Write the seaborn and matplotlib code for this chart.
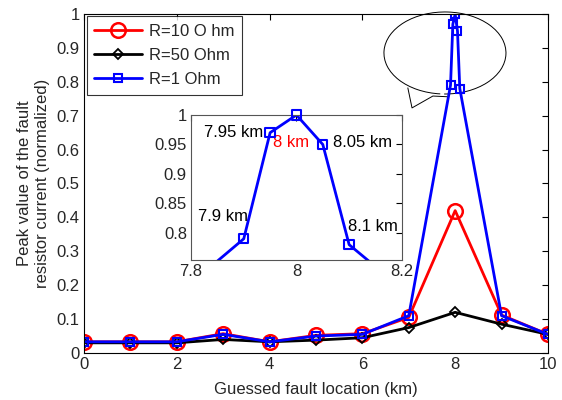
import numpy as np
import pandas as pd
import matplotlib
matplotlib.use("Agg")
import matplotlib.pyplot as plt
import seaborn as sns
from matplotlib.patches import Arc

# =========================
# data
# =========================
x_main = [0, 1, 2, 3, 4, 5, 6, 7, 8, 9, 10]
r10 = [0.033, 0.033, 0.033, 0.057, 0.033, 0.052, 0.057, 0.105, 0.42, 0.112, 0.055]
r50 = [0.030, 0.030, 0.030, 0.040, 0.033, 0.038, 0.045, 0.075, 0.12, 0.085, 0.055]

x_fine = [0, 1, 2, 3, 4, 5, 6, 7, 7.9, 7.95, 8, 8.05, 8.1, 9, 10]
r1 = [0.033, 0.033, 0.033, 0.055, 0.033, 0.050, 0.055, 0.11, 0.79, 0.97, 1.0, 0.95, 0.78, 0.11, 0.055]

inset_labels = ["7.9 km", "7.95 km", "8 km", "8.05 km", "8.1 km"]
inset_label_pos = [(7.86, 0.827), (7.88, 0.971), (7.99, 0.953), (8.125, 0.953), (8.145, 0.81)]
inset_label_colors = ["black", "black", "red", "black", "black"]

df10 = pd.DataFrame({"x": x_main, "y": r10})
df50 = pd.DataFrame({"x": x_main, "y": r50})
df1 = pd.DataFrame({"x": x_fine, "y": r1})

# =========================
# style
# =========================
sns.set_theme(style="white")
plt.rcParams["font.family"] = ["Liberation Sans", "DejaVu Sans"]
plt.rcParams["font.size"] = 12
plt.rcParams["xtick.direction"] = "in"
plt.rcParams["ytick.direction"] = "in"

FS = 12
LW = 2.0

fig = plt.figure(figsize=(5.62, 4.0), dpi=100)
ax = fig.add_axes([0.1495, 0.1175, 0.8255, 0.8475])

sns.lineplot(data=df10, x="x", y="y", ax=ax, color="red", linewidth=LW,
             marker="o", markersize=10.5, markerfacecolor="none",
             markeredgecolor="red", markeredgewidth=1.8, label="R=10 O hm")
sns.lineplot(data=df50, x="x", y="y", ax=ax, color="black", linewidth=LW,
             marker="D", markersize=5.5, markerfacecolor="none",
             markeredgecolor="black", markeredgewidth=1.3, label="R=50 Ohm")
sns.lineplot(data=df1, x="x", y="y", ax=ax, color="blue", linewidth=LW,
             marker="s", markersize=6, markerfacecolor="none",
             markeredgecolor="blue", markeredgewidth=1.5, label="R=1 Ohm")

ax.set_xlim(0, 10)
ax.set_ylim(0, 1)
ax.set_xticks([0, 2, 4, 6, 8, 10])
ax.set_yticks(np.arange(0, 1.01, 0.1))
ax.yaxis.set_major_formatter(matplotlib.ticker.FormatStrFormatter("%g"))
ax.tick_params(axis="both", which="both", top=True, right=True, length=4,
               width=0.8, color="black", labelsize=FS, pad=3)
for s in ax.spines.values():
    s.set_color("black")
    s.set_linewidth(0.8)
ax.set_xlabel("Guessed fault location (km)", fontsize=FS, labelpad=7)
ax.set_ylabel("Peak value of the fault\nresistor current (normalized)", fontsize=FS, labelpad=5)

leg = ax.legend(loc="upper left", fontsize=FS, frameon=True, fancybox=False,
                edgecolor="black", borderaxespad=0.15, handlelength=2.9,
                handletextpad=0.4, labelspacing=0.55, borderpad=0.45)
leg.get_frame().set_linewidth(0.8)

# speech bubble around the peak
bubble = Arc((7.78, 0.885), 2.63, 0.242, theta1=262, theta2=590,
             color="black", linewidth=0.7, clip_on=False)
ax.add_patch(bubble)
ax.plot([6.98, 7.07, 7.52, 7.82], [0.782, 0.723, 0.758, 0.756],
        color="black", linewidth=0.7)

# =========================
# inset (zoom on the R=1 Ohm peak)
# =========================
axin = fig.add_axes([0.340, 0.35, 0.375, 0.3625])
sns.lineplot(data=df1, x="x", y="y", ax=axin, color="blue", linewidth=LW)
near = df1[(df1["x"] >= 7.8) & (df1["x"] <= 8.2)]
sns.scatterplot(data=near, x="x", y="y", ax=axin, marker="s", s=45,
                facecolor="none", edgecolor="blue", linewidth=1.5,
                clip_on=False, zorder=5)
axin.set_xlim(7.8, 8.2)
axin.set_ylim(0.754, 1.0)
axin.set_xticks([7.8, 8.0, 8.2])
axin.set_yticks([0.8, 0.85, 0.9, 0.95, 1.0])
axin.xaxis.set_major_formatter(matplotlib.ticker.FormatStrFormatter("%g"))
axin.yaxis.set_major_formatter(matplotlib.ticker.FormatStrFormatter("%g"))
axin.tick_params(axis="both", which="both", top=True, right=True, length=4,
                 width=0.8, color="black", labelsize=FS, pad=3)
for s in axin.spines.values():
    s.set_color("#555555")
    s.set_linewidth(0.8)
axin.set_xlabel("")
axin.set_ylabel("")
for txt, (tx, ty), c in zip(inset_labels, inset_label_pos, inset_label_colors):
    axin.text(tx, ty, txt, color=c, fontsize=FS, ha="center", va="center")

fig.savefig("out.png", dpi=100)
